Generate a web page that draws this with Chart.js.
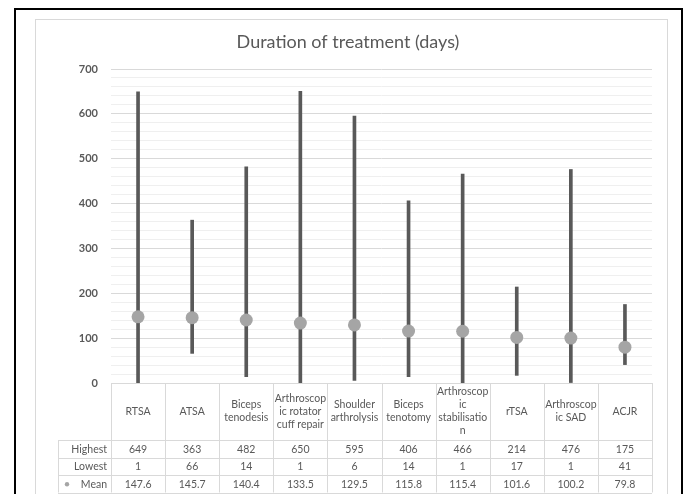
<!DOCTYPE html>
<html>
<head>
<meta charset="utf-8">
<script src="https://cdn.jsdelivr.net/npm/chart.js@4"></script>
<style>
html,body{margin:0;padding:0;background:#fff;}
canvas{display:block;}
</style>
</head>
<body>
<canvas id="c" width="686" height="494"></canvas>
<script>
const categories = ["RTSA", "ATSA", "Biceps\ntenodesis", "Arthroscop\nic rotator\ncuff repair", "Shoulder\narthrolysis", "Biceps\ntenotomy", "Arthroscop\nic\nstabilisatio\nn", "rTSA", "Arthroscop\nic SAD", "ACJR"];
const highest = [649, 363, 482, 650, 595, 406, 466, 214, 476, 175];
const lowest = [1, 66, 14, 1, 6, 14, 1, 17, 1, 41];
const mean = [147.6, 145.7, 140.4, 133.5, 129.5, 115.8, 115.4, 101.6, 100.2, 79.8];
const rowNames = ["Highest", "Lowest", "Mean"];
const titleText = "Duration of treatment (days)";

const FONT = "Lato, 'Open Sans', sans-serif";
const TXT = "#595959";
const LINE = "#d9d9d9";

const framePlugin = {
  id: 'frame',
  beforeDraw(chart) {
    const ctx = chart.ctx;
    ctx.save();
    ctx.fillStyle = '#fff';
    ctx.fillRect(0, 0, chart.width, chart.height);
    ctx.strokeStyle = '#000';
    ctx.lineWidth = 2;
    ctx.strokeRect(15, 9, 667, 500);
    ctx.strokeStyle = LINE;
    ctx.lineWidth = 1;
    ctx.strokeRect(35.5, 19.5, 632, 500);
    // title
    ctx.fillStyle = TXT;
    ctx.font = "18px " + FONT;
    ctx.textAlign = 'center';
    ctx.textBaseline = 'middle';
    ctx.fillText(titleText, 348, 42);
    ctx.restore();
  },
  afterDraw(chart) {
    const ctx = chart.ctx;
    const area = chart.chartArea;
    const n = categories.length;
    const left = area.left, right = area.right;
    const w = (right - left) / n;
    const top = area.bottom;
    const headH = 57, rowH = 17.5;
    const labelL = 58;
    const rows = [highest, lowest, mean];
    ctx.save();
    ctx.strokeStyle = LINE;
    ctx.lineWidth = 1;
    for (let i = 0; i <= n; i++) {
      const x = Math.round(left + i * w) + 0.5;
      ctx.beginPath();
      ctx.moveTo(x, top);
      ctx.lineTo(x, top + headH + rowH * 3);
      ctx.stroke();
    }
    ctx.beginPath();
    ctx.moveTo(labelL + 0.5, top + headH);
    ctx.lineTo(labelL + 0.5, top + headH + rowH * 3);
    ctx.stroke();
    ctx.beginPath();
    ctx.moveTo(left, Math.round(top) + 0.5);
    ctx.lineTo(right, Math.round(top) + 0.5);
    ctx.stroke();
    for (let r = 0; r <= 3; r++) {
      const y = Math.round(top + headH + r * rowH) + 0.5;
      ctx.beginPath();
      ctx.moveTo(labelL, y);
      ctx.lineTo(right, y);
      ctx.stroke();
    }
    ctx.fillStyle = TXT;
    ctx.font = "10.5px " + FONT;
    ctx.textAlign = 'center';
    ctx.textBaseline = 'middle';
    for (let i = 0; i < n; i++) {
      const cx = chart.scales.x.getPixelForValue(i);
      const lines = categories[i].split("\n");
      const lh = 13;
      const cy = top + headH / 2;
      lines.forEach((ln, k) => {
        ctx.fillText(ln, cx, cy + (k - (lines.length - 1) / 2) * lh);
      });
    }
    for (let r = 0; r < 3; r++) {
      const cy = top + headH + r * rowH + rowH / 2 + 0.5;
      ctx.textAlign = 'right';
      ctx.fillText(rowNames[r], left - 4, cy);
      ctx.textAlign = 'center';
      for (let i = 0; i < n; i++) {
        const cx = chart.scales.x.getPixelForValue(i);
        ctx.fillText(String(rows[r][i]), cx, cy);
      }
    }
    ctx.fillStyle = '#a5a5a5';
    ctx.beginPath();
    ctx.arc(67, top + headH + 2 * rowH + rowH / 2 + 0.5, 2.2, 0, Math.PI * 2);
    ctx.fill();
    ctx.restore();
  }
};

new Chart(document.getElementById('c'), {
  data: {
    labels: categories,
    datasets: [
      {
        type: 'line',
        label: 'Mean',
        data: mean,
        showLine: false,
        pointRadius: 6.5,
        pointHoverRadius: 6.5,
        pointBackgroundColor: '#a5a5a5',
        pointBorderWidth: 0,
        borderColor: '#a5a5a5',
        order: 0
      },
      {
        type: 'bar',
        label: 'Range',
        data: lowest.map((l, i) => [l, highest[i]]),
        backgroundColor: '#595959',
        barThickness: 3,
        order: 1
      }
    ]
  },
  options: {
    responsive: false,
    animation: false,
    events: [],
    layout: { padding: { left: 0, right: 34, top: 69, bottom: 111 } },
    plugins: {
      legend: { display: false },
      tooltip: { enabled: false },
      title: { display: false }
    },
    scales: {
      x: {
        type: 'category',
        display: false,
        offset: true
      },
      y: {
        min: 0,
        max: 700,
        afterFit(scale) { scale.width = 111; },
        border: { display: false },
        grid: {
          drawTicks: false,
          color: (c) => (c.tick && c.tick.value % 100 === 0) ? '#d9d9d9' : '#efefef'
        },
        ticks: {
          stepSize: 20,
          autoSkip: false,
          padding: 13,
          color: TXT,
          font: { family: FONT, size: 11, weight: 'bold' },
          callback: (v) => (v % 100 === 0 ? String(v) : '')
        }
      }
    }
  },
  plugins: [framePlugin]
});
</script>
</body>
</html>
